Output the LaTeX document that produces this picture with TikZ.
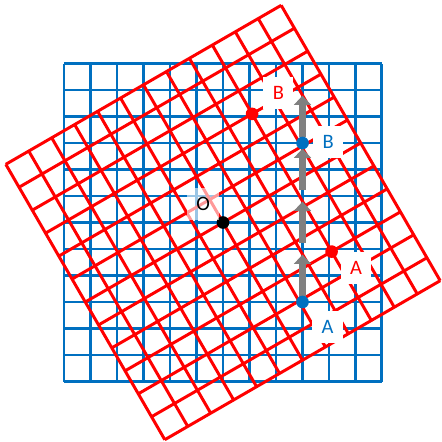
\documentclass[tikz,border=0pt]{standalone}
\usepackage{fontspec}
\setmainfont{Carlito}
\usetikzlibrary{arrows.meta}
\definecolor{gridblue}{RGB}{0,112,192}
\definecolor{gridred}{RGB}{255,0,0}
\definecolor{arrowgray}{RGB}{128,128,128}
\tikzset{
  dot/.style={circle, inner sep=0pt, minimum size=6.8pt},
  lbl/.style={fill=white, inner sep=5pt, font=\fontsize{11}{13}\selectfont},
  stepvec/.style={->, arrowgray, line width=3.7pt, shorten <=3pt, shorten >=3pt}
}

\begin{document}
\begin{tikzpicture}[scale=0.5, >={Triangle[width=9pt,length=5pt]}]
    \useasboundingbox (-8.415,-8.283) rectangle (8.264,8.396);

    % the two grids
    \draw[gridblue, line width=1.6pt] (-6,-6) grid (6,6);
    \draw[gridred, line width=1.6pt, rotate=30] (-6,-6) grid (6,6);

    \coordinate (O) at (0,0);
    \coordinate (A) at (3,-3);
    \coordinate (m1) at (3,-1);
    \coordinate (m2) at (3,1);
    \coordinate (B) at (3,3);
    \coordinate (m3) at (3,5);
    \coordinate (rA) at (-15:4.2426);
    \coordinate (rB) at (75:4.2426);

    % unit steps
    \draw[stepvec, shorten <=0pt] (A) -- (m1);
    \draw[stepvec] (m1) -- (m2);
    \draw[stepvec] (m2) -- (B);
    \draw[stepvec] (B) -- (m3);

    \node[dot, fill=black] (dO) at (O) {};
    \node[dot, fill=gridblue] (dA) at (A) {};
    \node[dot, fill=gridblue] (dB) at (B) {};
    \node[dot, fill=gridred] (drA) at (rA) {};
    \node[dot, fill=gridred] (drB) at (rB) {};

    \node[lbl, fill opacity=0.6, text opacity=1] (lO) at (-0.75, 0.7) {O};
    \node[lbl, text=gridblue] (lA) at (3.95, -3.93) {A};
    \node[lbl, text=gridblue] (lB) at (3.97, 3.05) {B};
    \node[lbl, text=gridred] (lrA) at (5.02, -1.73) {A};
    \node[lbl, text=gridred] (lrB) at (2.09, 4.88) {B};
\end{tikzpicture}
\end{document}
